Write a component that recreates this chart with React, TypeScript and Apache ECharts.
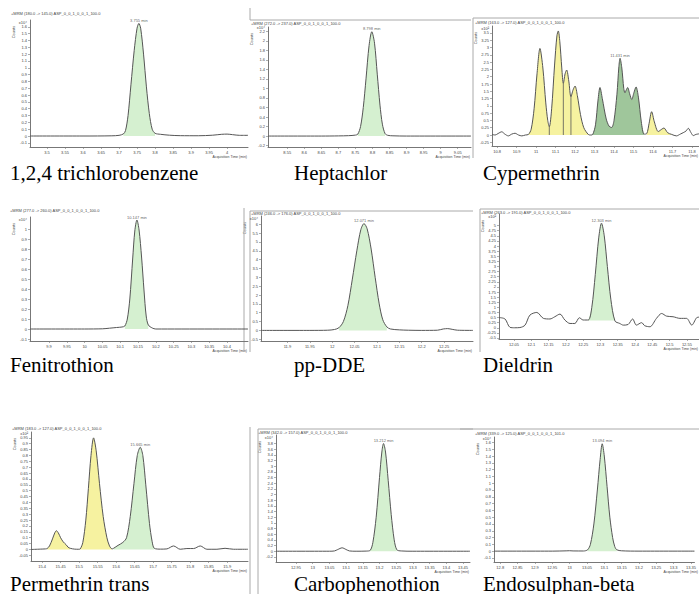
import React, { useEffect, useRef } from "react";
import * as echarts from "echarts";

type Pt = [number, number];

// ---------------- DATA ----------------
const labels = [
  "1,2,4 trichlorobenzene", "Heptachlor", "Cypermethrin",
  "Fenitrothion", "pp-DDE", "Dieldrin",
  "Permethrin trans", "Carbophenothion", "Endosulphan-beta",
];
const titles = [
  "+MRM (180.0 -> 145.0) ASP_0_0_1_0_0_1_100.0",
  "+MRM (272.0 -> 237.0) ASP_0_0_1_0_0_1_100.0",
  "+MRM (163.0 -> 127.0) ASP_0_0_1_0_0_1_100.0",
  "+MRM (277.0 -> 260.0) ASP_0_0_1_0_0_1_100.0",
  "+MRM (246.0 -> 176.0) ASP_0_0_1_0_0_1_100.0",
  "+MRM (263.0 -> 191.0) ASP_0_0_1_0_0_1_100.0",
  "+MRM (183.0 -> 127.0) ASP_0_0_1_0_0_1_100.0",
  "+MRM (342.0 -> 157.0) ASP_0_0_1_0_0_1_100.0",
  "+MRM (339.0 -> 125.0) ASP_0_0_1_0_0_1_101.0",
];
const exps = ["x10⁴", "x10⁴", "x10²", "x10⁴", "x10⁴", "x10²", "x10²", "x10⁴", "x10⁴"];
const peakTimes = [3.755, 8.798, 11.431, 10.147, 12.071, 12.303, 15.665, 13.212, 13.094];

// tick labels
const tcbXTicks = [3.5, 3.55, 3.6, 3.65, 3.7, 3.75, 3.8, 3.85, 3.9, 3.95, 4];
const tcbYTicks = [-0.1, 0, 0.1, 0.2, 0.3, 0.4, 0.5, 0.6, 0.7, 0.8, 0.9, 1, 1.1, 1.2, 1.3, 1.4, 1.5, 1.6];
const hepXTicks = [8.55, 8.6, 8.65, 8.7, 8.75, 8.8, 8.85, 8.9, 8.95, 9, 9.05];
const hepYTicks = [-0.2, 0, 0.2, 0.4, 0.6, 0.8, 1, 1.2, 1.4, 1.6, 1.8, 2, 2.2];
const cypXTicks = [10.8, 10.9, 11, 11.1, 11.2, 11.3, 11.4, 11.5, 11.6, 11.7, 11.8];
const cypYTicks = [-0.25, 0, 0.25, 0.5, 0.75, 1, 1.25, 1.5, 1.75, 2, 2.25, 2.5, 2.75, 3, 3.25, 3.5, 3.75];
const fenXTicks = [9.9, 9.95, 10, 10.05, 10.1, 10.15, 10.2, 10.25, 10.3, 10.35, 10.4];
const fenYTicks = [-0.1, 0, 0.1, 0.2, 0.3, 0.4, 0.5, 0.6, 0.7, 0.8, 0.9, 1];
const ddeXTicks = [11.9, 11.95, 12, 12.05, 12.1, 12.15, 12.2, 12.25];
const ddeYTicks = [-0.5, 0, 0.5, 1, 1.5, 2, 2.5, 3, 3.5, 4, 4.5, 5, 5.5, 6];
const dieXTicks = [12.05, 12.1, 12.15, 12.2, 12.25, 12.3, 12.35, 12.4, 12.45, 12.5, 12.55];
const dieYTicks = [-0.5, -0.25, 0, 0.25, 0.5, 0.75, 1, 1.25, 1.5, 1.75, 2, 2.25, 2.5, 2.75, 3, 3.25, 3.5, 3.75, 4, 4.25, 4.5, 4.75, 5];
const perXTicks = [15.4, 15.45, 15.5, 15.55, 15.6, 15.65, 15.7, 15.75, 15.8, 15.85, 15.9];
const perYTicks = [-0.05, 0, 0.05, 0.1, 0.15, 0.2, 0.25, 0.3, 0.35, 0.4, 0.45, 0.5, 0.55, 0.6, 0.65, 0.7, 0.75, 0.8, 0.85, 0.9, 0.95];
const carXTicks = [12.95, 13, 13.05, 13.1, 13.15, 13.2, 13.25, 13.3, 13.35, 13.4, 13.45];
const carYTicks = [-0.2, 0, 0.2, 0.4, 0.6, 0.8, 1, 1.2, 1.4, 1.6, 1.8, 2, 2.2, 2.4, 2.6, 2.8, 3, 3.2, 3.4, 3.6, 3.8];
const endXTicks = [12.8, 12.85, 12.9, 12.95, 13, 13.05, 13.1, 13.15, 13.2, 13.25, 13.3, 13.35];
const endYTicks = [-0.1, 0, 0.1, 0.2, 0.3, 0.4, 0.5, 0.6, 0.7, 0.8, 0.9, 1, 1.1, 1.2, 1.3, 1.4, 1.5, 1.6];

// traces [time (min), counts]
const tcbTrace: Pt[] = [[3.453, 0], [3.6, 0], [3.68, 0.003], [3.7, 0.01], [3.712, 0.03], [3.718, 0.08], [3.725, 0.3], [3.733, 0.75], [3.742, 1.25], [3.75, 1.58], [3.755, 1.65], [3.76, 1.58], [3.768, 1.2], [3.776, 0.72], [3.784, 0.33], [3.792, 0.1], [3.8, 0.04], [3.815, 0.025], [3.84, 0.012], [3.87, 0.005], [3.92, 0.004], [3.96, 0.012], [3.985, 0.025], [4.0, 0.028], [4.015, 0.02], [4.035, 0.01], [4.058, 0.01]];
const hepTrace: Pt[] = [[8.494, 0], [8.65, 0], [8.7, 0.003], [8.73, 0.008], [8.75, 0.02], [8.757, 0.04], [8.765, 0.2], [8.773, 0.6], [8.781, 1.2], [8.79, 1.9], [8.798, 2.19], [8.806, 1.95], [8.814, 1.3], [8.822, 0.65], [8.829, 0.25], [8.837, 0.05], [8.845, 0.015], [8.86, 0.005], [8.9, 0], [9.089, 0]];
const cypTrace: Pt[] = [[10.774, 0.02], [10.79, 0.0], [10.805, 0.05], [10.824, 0.11], [10.84, 0.03], [10.858, -0.03], [10.875, 0.03], [10.892, 0.06], [10.91, 0.0], [10.927, -0.03], [10.945, 0.0], [10.961, 0.02], [10.975, 0.2], [10.99, 0.9], [11.005, 2.1], [11.02, 2.97], [11.035, 2.3], [11.05, 1.1], [11.06, 0.5], [11.068, 0.28], [11.08, 0.9], [11.095, 2.4], [11.107, 3.4], [11.114, 3.57], [11.122, 3.2], [11.132, 2.3], [11.14, 1.77], [11.149, 2.1], [11.157, 2.23], [11.168, 1.85], [11.179, 1.31], [11.19, 1.55], [11.2, 1.68], [11.212, 1.35], [11.228, 0.7], [11.245, 0.25], [11.268, 0.02], [11.28, 0.0], [11.291, 0.02], [11.305, 0.35], [11.318, 1.2], [11.328, 1.63], [11.34, 1.25], [11.36, 0.55], [11.375, 0.3], [11.388, 0.26], [11.4, 0.5], [11.415, 1.4], [11.425, 2.35], [11.431, 2.63], [11.44, 2.3], [11.45, 1.6], [11.456, 1.45], [11.463, 1.55], [11.47, 1.63], [11.48, 1.42], [11.491, 1.22], [11.502, 1.45], [11.513, 1.65], [11.525, 1.3], [11.54, 0.45], [11.554, 0.03], [11.568, 0.05], [11.58, 0.4], [11.593, 0.8], [11.607, 0.45], [11.627, 0.12], [11.645, 0.2], [11.656, 0.24], [11.675, 0.08], [11.696, 0.02], [11.72, -0.03], [11.74, 0.03], [11.755, 0.08], [11.77, 0.14], [11.781, 0.23], [11.795, 0.08], [11.807, -0.02], [11.82, 0.02], [11.836, 0.04]];
const fenTrace: Pt[] = [[9.847, 0], [10.0, 0], [10.05, 0.002], [10.07, 0.008], [10.09, 0.015], [10.105, 0.02], [10.113, 0.03], [10.12, 0.1], [10.127, 0.3], [10.135, 0.7], [10.141, 0.98], [10.147, 1.09], [10.153, 0.99], [10.16, 0.72], [10.167, 0.38], [10.173, 0.13], [10.179, 0.04], [10.19, 0.01], [10.2, 0], [10.459, 0]];
const ddeTrace: Pt[] = [[11.841, 0], [11.95, 0], [11.99, 0.01], [12.005, 0.05], [12.015, 0.15], [12.025, 0.5], [12.035, 1.4], [12.045, 2.9], [12.055, 4.5], [12.064, 5.7], [12.071, 6.04], [12.078, 5.75], [12.087, 4.6], [12.096, 3.0], [12.105, 1.5], [12.113, 0.6], [12.122, 0.2], [12.13, 0.08], [12.15, 0.03], [12.17, 0.01], [12.2, 0], [12.235, 0.01], [12.248, 0.08], [12.258, 0.1], [12.268, 0.06], [12.28, 0.01], [12.3145, 0]];
const dieTrace: Pt[] = [[12.0066, 0.5], [12.024, 0.43], [12.0384, 0.02], [12.052, 0], [12.067, 0.01], [12.082, 0.13], [12.096, 0.62], [12.116, 0.75], [12.135, 0.46], [12.154, 0.43], [12.168, 0.54], [12.183, 0.67], [12.197, 0.38], [12.212, 0.21], [12.226, 0.21], [12.239, 0.49], [12.25, 0.38], [12.265, 0.38], [12.275, 1.0], [12.285, 2.6], [12.295, 4.4], [12.303, 5.12], [12.311, 4.5], [12.32, 3.0], [12.33, 1.4], [12.342, 0.33], [12.356, 0.21], [12.366, 0.13], [12.38, 0.16], [12.393, 0.43], [12.404, 0.13], [12.419, 0.25], [12.428, 0.1], [12.443, 0.05], [12.462, 0.46], [12.477, 0.7], [12.491, 0.57], [12.51, 0.54], [12.53, 0.46], [12.549, 0.46], [12.564, 0.13], [12.578, 0.49], [12.585, 0.52]];
const perTrace: Pt[] = [[15.37, 0], [15.395, 0.003], [15.409, 0.005], [15.4135, 0.008], [15.42, 0.03], [15.428, 0.09], [15.434, 0.14], [15.4385, 0.16], [15.444, 0.14], [15.45, 0.1], [15.457, 0.065], [15.465, 0.04], [15.47, 0.02], [15.476, 0.01], [15.488, 0.003], [15.499, 0.002], [15.503, 0.005], [15.51, 0.06], [15.518, 0.25], [15.525, 0.52], [15.532, 0.8], [15.539, 0.95], [15.546, 0.84], [15.555, 0.56], [15.565, 0.28], [15.575, 0.1], [15.582, 0.03], [15.589, 0.005], [15.593, 0.01], [15.605, 0.035], [15.618, 0.06], [15.628, 0.1], [15.638, 0.28], [15.648, 0.56], [15.657, 0.8], [15.665, 0.87], [15.672, 0.8], [15.68, 0.55], [15.69, 0.22], [15.697, 0.07], [15.703, 0.01], [15.72, 0.003], [15.737, 0.005], [15.755, 0.03], [15.773, 0.002], [15.791, 0.008], [15.809, 0.008], [15.827, 0.03], [15.845, 0.002], [15.872, 0.002], [15.894, 0.01], [15.917, 0.002], [15.956, 0.002]];
const carTrace: Pt[] = [[12.89, 0], [13.05, 0], [13.065, 0.01], [13.075, 0.06], [13.088, 0.12], [13.1, 0.06], [13.11, 0.01], [13.13, 0], [13.16, 0.005], [13.172, 0.03], [13.18, 0.3], [13.19, 1.2], [13.2, 2.6], [13.207, 3.5], [13.212, 3.8], [13.218, 3.5], [13.226, 2.5], [13.235, 1.3], [13.244, 0.4], [13.252, 0.05], [13.265, 0.01], [13.3, 0], [13.471, 0]];
const endTrace: Pt[] = [[12.782, 0], [12.95, 0], [12.99, 0.004], [13.0, 0.006], [13.01, 0.003], [13.04, 0.002], [13.052, 0.02], [13.06, 0.1], [13.07, 0.4], [13.08, 0.9], [13.088, 1.35], [13.094, 1.58], [13.1, 1.4], [13.108, 0.95], [13.116, 0.5], [13.124, 0.2], [13.13, 0.07], [13.136, 0.02], [13.15, 0.005], [13.2, 0], [13.36, 0]];

// integrated peak windows [start, end, kind, area base]
type Fill = [number, number, "target" | "other" | "group", number];
const tcbFills: Fill[] = [[3.712, 3.8, "target", 0]];
const hepFills: Fill[] = [[8.757, 8.837, "target", 0]];
const cypFills: Fill[] = [[10.961, 11.268, "other", 0], [11.291, 11.554, "group", 0], [11.568, 11.696, "other", 0]];
const cypDividers = [11.068, 11.14, 11.179];
const fenFills: Fill[] = [[10.113, 10.179, "target", 0]];
const ddeFills: Fill[] = [[12.015, 12.122, "target", 0]];
const dieFills: Fill[] = [[12.265, 12.342, "target", 0.35]];
const perFills: Fill[] = [[15.4135, 15.476, "other", 0], [15.503, 15.589, "other", 0], [15.593, 15.703, "target", 0]];
const carFills: Fill[] = [[13.172, 13.252, "target", 0]];
const endFills: Fill[] = [[13.052, 13.136, "target", 0]];

const panels = [
  { trace: tcbTrace, fills: tcbFills, dividers: [] as number[], xTicks: tcbXTicks, yTicks: tcbYTicks },
  { trace: hepTrace, fills: hepFills, dividers: [] as number[], xTicks: hepXTicks, yTicks: hepYTicks },
  { trace: cypTrace, fills: cypFills, dividers: cypDividers, xTicks: cypXTicks, yTicks: cypYTicks },
  { trace: fenTrace, fills: fenFills, dividers: [] as number[], xTicks: fenXTicks, yTicks: fenYTicks },
  { trace: ddeTrace, fills: ddeFills, dividers: [] as number[], xTicks: ddeXTicks, yTicks: ddeYTicks },
  { trace: dieTrace, fills: dieFills, dividers: [] as number[], xTicks: dieXTicks, yTicks: dieYTicks },
  { trace: perTrace, fills: perFills, dividers: [] as number[], xTicks: perXTicks, yTicks: perYTicks },
  { trace: carTrace, fills: carFills, dividers: [] as number[], xTicks: carXTicks, yTicks: carYTicks },
  { trace: endTrace, fills: endFills, dividers: [] as number[], xTicks: endXTicks, yTicks: endYTicks },
];

// ---------------- LAYOUT / STYLE ----------------
// grid: [left, top, right, bottom] px; x/y: axis extents
const layout = [
  { grid: [30, 20, 248, 147], x: [3.4528, 4.058], y: [-0.161, 1.7], title: [11, 13], label: [10, 173] },
  { grid: [268, 27, 471, 147], x: [8.4935, 9.089], y: [-0.23, 2.29], title: [251, 23], label: [294, 173] },
  { grid: [492, 26, 699, 146], x: [10.774, 11.836], y: [-0.377, 3.74], title: [475, 22], label: [483, 173] },
  { grid: [30, 217, 248, 341], x: [9.8466, 10.459], y: [-0.12, 1.12], title: [10, 210], label: [10, 365] },
  { grid: [261, 216, 473, 341], x: [11.841, 12.3145], y: [-0.6, 6.47], title: [251, 213], label: [294, 365] },
  { grid: [499, 214, 699, 339], x: [12.0066, 12.585], y: [-0.55, 5.57], title: [481, 212], label: [483, 365] },
  { grid: [31, 432, 248, 561], x: [15.37, 15.956], y: [-0.098, 1.0], title: [12, 428], label: [10, 584] },
  { grid: [276, 435, 470, 562], x: [12.89, 13.471], y: [-0.38, 4.1], title: [258, 432], label: [294, 584] },
  { grid: [494, 437, 699, 562], x: [12.782, 13.36], y: [-0.16, 1.68], title: [475, 433], label: [483, 584] },
];
const frameLines = [
  [250, 8, 250, 20], [250, 20, 471, 20],
  [473, 18, 699, 18], [473, 18, 473, 158],
  [244, 208, 244, 352], [250, 211, 473, 211], [250, 211, 250, 352],
  [480, 209, 699, 209], [480, 209, 480, 352],
  [250, 427, 250, 594], [258, 429, 473, 429], [258, 429, 258, 594],
  [460, 429, 699, 429],
];
const fillColors: Record<string, string> = { target: "#d5f0d0", other: "#f6f2a0", group: "#9fc69b" };
const LINE = "#555";
const AXIS = "#777";
const TXT = "#444";
const SANS = "'Liberation Sans', Arial, sans-serif";
const SERIF = "'Liberation Serif', 'Times New Roman', serif";

function buildOption() {
  const grid: any[] = [];
  const xAxis: any[] = [];
  const yAxis: any[] = [];
  const series: any[] = [];
  const graphic: any[] = [];

  panels.forEach((p, i) => {
    const L = layout[i];
    const [l, t, r, b] = L.grid;
    grid.push({ left: l, top: t, width: r - l, height: b - t, containLabel: false });
    xAxis.push({
      gridIndex: i, type: "value", min: L.x[0], max: L.x[1],
      axisLine: { show: true, onZero: false, lineStyle: { color: AXIS, width: 1 } },
      axisTick: { show: true, customValues: p.xTicks, length: 2, lineStyle: { color: AXIS, width: 0.6 } },
      axisLabel: { customValues: p.xTicks, fontSize: 4, color: TXT, margin: 3, fontFamily: SANS, formatter: (v: number) => String(v) },
      splitLine: { show: false },
    });
    yAxis.push({
      gridIndex: i, type: "value", min: L.y[0], max: L.y[1],
      name: exps[i], nameLocation: "end", nameGap: -4,
      nameTextStyle: { fontSize: 4, color: TXT, align: "right", fontFamily: SANS, padding: [0, 3, 0, 0] },
      axisLine: { show: true, onZero: false, lineStyle: { color: AXIS, width: 1 } },
      axisTick: { show: true, customValues: p.yTicks, length: 2, lineStyle: { color: AXIS, width: 0.6 } },
      axisLabel: { customValues: p.yTicks, fontSize: 4, color: TXT, margin: 3, fontFamily: SANS, formatter: (v: number) => String(v) },
      splitLine: { show: false },
    });

    p.fills.forEach(([a, bnd, kind, base]) => {
      series.push({
        type: "line", xAxisIndex: i, yAxisIndex: i, smooth: 0.3, symbol: "none", silent: true,
        data: p.trace.filter((q) => q[0] >= a && q[0] <= bnd),
        lineStyle: { width: 0 },
        areaStyle: { color: fillColors[kind], opacity: 1, origin: base === 0 ? "auto" : base },
        z: 2,
      });
    });
    p.dividers.forEach((dx) => {
      const pt = p.trace.find((q) => q[0] === dx);
      if (!pt) return;
      series.push({
        type: "line", xAxisIndex: i, yAxisIndex: i, symbol: "none", silent: true,
        data: [[dx, 0], pt], lineStyle: { color: LINE, width: 0.8 }, z: 3,
      });
    });
    series.push({
      type: "line", xAxisIndex: i, yAxisIndex: i, smooth: 0.3, symbol: "none", silent: true,
      data: p.trace, lineStyle: { color: LINE, width: 1 }, z: 4,
    });
    const apex = p.trace.find((q) => q[0] === peakTimes[i]);
    if (apex) {
      series.push({
        type: "scatter", xAxisIndex: i, yAxisIndex: i, symbolSize: 0, silent: true,
        data: [apex], itemStyle: { color: "#333" },
        label: { show: true, position: "top", distance: 1, fontSize: 4, color: "#333", textBorderWidth: 0, fontFamily: SANS, formatter: () => `${peakTimes[i]} min` },
        z: 5,
      });
    }

    graphic.push({
      type: "text", x: L.title[0], y: L.title[1], silent: true,
      style: { text: titles[i], fontSize: 4, fill: TXT, fontFamily: SANS, textVerticalAlign: "middle" },
    });
    graphic.push({
      type: "text", x: l - 17, y: t + 12, rotation: Math.PI / 2, silent: true,
      style: { text: "Counts", fontSize: 4, fill: TXT, fontFamily: SANS, textAlign: "center", textVerticalAlign: "middle" },
    });
    graphic.push({
      type: "text", x: r - 1, y: b + 10, silent: true,
      style: { text: "Acquisition Time (min)", fontSize: 3.5, fill: TXT, fontFamily: SANS, textAlign: "right", textVerticalAlign: "middle" },
    });
    graphic.push({
      type: "text", x: L.label[0], y: L.label[1], silent: true,
      style: { text: labels[i], fontSize: 21, fill: "#000", fontFamily: SERIF, textVerticalAlign: "middle" },
    });
  });

  frameLines.forEach(([x1, y1, x2, y2]) => {
    graphic.push({ type: "line", silent: true, shape: { x1, y1, x2, y2 }, style: { stroke: "#aaa", lineWidth: 1 } });
  });

  return { animation: false, backgroundColor: "#fff", grid, xAxis, yAxis, series, graphic };
}

export default function App() {
  const ref = useRef<HTMLDivElement>(null);
  useEffect(() => {
    if (!ref.current) return;
    const chart = echarts.init(ref.current, undefined, { renderer: "svg" });
    chart.setOption(buildOption() as any);
    return () => chart.dispose();
  }, []);
  return (
    <div
      ref={ref}
      style={{ position: "fixed", left: 0, top: 0, width: 699, height: 594, background: "#fff" }}
    />
  );
}
